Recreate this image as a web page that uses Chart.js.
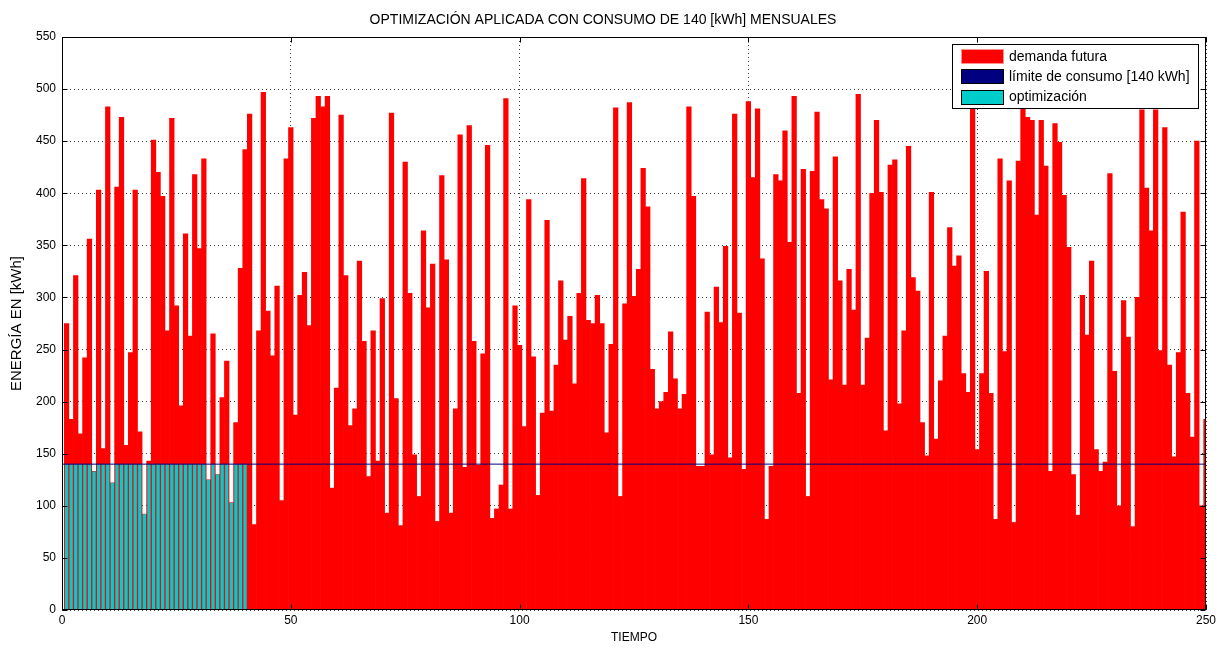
<!DOCTYPE html>
<html>
<head>
<meta charset="utf-8">
<script src="https://cdn.jsdelivr.net/npm/chart.js@4.4.0/dist/chart.umd.min.js"></script>
<style>
html, body { margin: 0; padding: 0; background: #fff; }
canvas { display: block; }
</style>
</head>
<body>
<canvas id="chart" width="1231" height="648"></canvas>
<script>
// monthly future demand, kWh (one bar per time step, 1..250)
const demand = [
  275,183,321,169,242,356,133,403,155,483,
  122,406,473,158,247,403,171,92,143,451,
  420,397,268,472,292,196,361,263,418,347,
  433,125,265,130,204,239,103,180,328,442,
  476,82,268,497,287,244,311,105,433,463,
  187,302,324,273,472,493,483,493,117,213,
  475,321,177,193,335,258,128,268,143,299,
  93,477,203,81,430,304,149,109,364,290,
  332,85,417,336,93,193,456,137,465,258,
  139,246,446,88,97,120,491,97,292,254,
  176,394,243,110,189,374,191,235,316,259,
  282,217,304,414,278,275,302,275,170,255,
  482,109,294,487,301,327,424,387,231,193,
  200,209,267,222,193,207,483,397,138,138,
  286,149,310,276,349,146,476,285,135,488,
  415,481,337,87,138,418,412,460,353,493,
  208,423,109,421,478,394,385,221,435,316,
  216,327,288,495,216,261,400,470,401,172,
  427,432,198,268,445,319,306,180,148,401,
  164,220,263,367,330,340,227,209,490,154,
  227,325,208,87,433,248,412,84,431,490,
  473,470,379,470,426,133,467,449,398,348,
  130,91,302,264,335,154,133,142,419,229,
  100,297,262,80,300,480,405,364,480,249,
  463,235,147,247,382,208,166,450,100,183
];

// optimized consumption for the first 40 steps
const optim = [
  140,140,140,140,140,140,133,140,140,140,
  122,140,140,140,140,140,140,92,140,140,
  140,140,140,140,140,140,140,140,140,140,
  140,125,140,130,140,140,103,140,140,140
];

// consumption limit line
const limitX = [0, 250];
const limitY = [140, 140];

const labels = ['demanda futura', 'límite de consumo [140 kWh]', 'optimización'];
const titleText = 'OPTIMIZACIÓN APLICADA CON CONSUMO DE 140 [kWh] MENSUALES';
const FONT = '"Liberation Sans", Arial, sans-serif';

// frame round the plot and inward tick marks (MATLAB style)
const framePlugin = {
  id: 'frame',
  afterDatasetsDraw(chart) {
    const { ctx, chartArea: a, scales: { x, y } } = chart;
    const L = Math.round(a.left) + 0.5, R = Math.round(a.right) - 0.5;
    const T = Math.round(a.top) + 0.5, B = Math.round(a.bottom) - 0.5;
    ctx.save();
    ctx.strokeStyle = '#000';
    ctx.lineWidth = 1;
    ctx.strokeRect(L, T, R - L, B - T);
    ctx.beginPath();
    y.ticks.forEach(t => {
      const py = Math.round(y.getPixelForValue(t.value)) + 0.5;
      ctx.moveTo(L, py); ctx.lineTo(L + 5, py);
      ctx.moveTo(R, py); ctx.lineTo(R - 5, py);
    });
    x.ticks.forEach(t => {
      const px = Math.round(x.getPixelForValue(t.value)) + 0.5;
      ctx.moveTo(px, B); ctx.lineTo(px, B - 5);
      ctx.moveTo(px, T); ctx.lineTo(px, T + 5);
    });
    ctx.stroke();
    ctx.restore();
  }
};

// boxed legend inside the plot, top right
const boxLegend = {
  id: 'boxLegend',
  afterDraw(chart) {
    const ctx = chart.ctx;
    ctx.save();
    ctx.fillStyle = '#fff';
    ctx.fillRect(952.5, 44.5, 246, 64);
    ctx.strokeStyle = '#000';
    ctx.lineWidth = 1;
    ctx.strokeRect(952.5, 44.5, 246, 64);
    ctx.font = '14px ' + FONT;
    ctx.textBaseline = 'middle';
    chart.data.datasets.forEach((ds, i) => {
      const cy = 56 + i * 20.3;
      const col = ds.type === 'line' ? ds.borderColor : ds.backgroundColor;
      ctx.fillStyle = col;
      ctx.fillRect(961, Math.round(cy - 7), 43, 15);
      ctx.strokeStyle = i === 0 ? '#ff9090' : '#000';
      ctx.strokeRect(961.5, Math.round(cy - 7) + 0.5, 42, 14);
      ctx.fillStyle = '#000';
      ctx.fillText(ds.label, 1009, cy + 1);
    });
    ctx.restore();
  }
};

new Chart(document.getElementById('chart'), {
  type: 'bar',
  data: {
    datasets: [
      {
        label: labels[0],
        data: demand.map((v, i) => ({ x: i + 1, y: v })),
        backgroundColor: '#ff0000',
        borderWidth: 0,
        barPercentage: 1,
        categoryPercentage: 1,
        grouped: false,
        order: 3
      },
      {
        type: 'line',
        label: labels[1],
        data: limitX.map((v, i) => ({ x: v, y: limitY[i] })),
        borderColor: '#000080',
        borderWidth: 1,
        pointRadius: 0,
        fill: false,
        order: 1
      },
      {
        label: labels[2],
        data: optim.map((v, i) => ({ x: i + 1, y: v })),
        backgroundColor: '#00cccc',
        borderWidth: 0,
        barPercentage: 0.72,
        categoryPercentage: 1,
        grouped: false,
        order: 2
      }
    ]
  },
  options: {
    responsive: false,
    animation: false,
    layout: { padding: { top: 0, left: 0, right: 25, bottom: 0 } },
    plugins: {
      legend: { display: false },
      tooltip: { enabled: false },
      title: {
        display: true,
        text: titleText,
        color: '#000',
        font: { family: FONT, size: 14, weight: 'normal' },
        padding: { top: 11.5, bottom: 8.7 }
      }
    },
    scales: {
      x: {
        type: 'linear',
        min: 0,
        max: 250,
        offset: false,
        ticks: { stepSize: 50, color: '#000', padding: 3, maxRotation: 0, font: { family: FONT, size: 12 } },
        grid: { offset: false, drawTicks: false, color: 'rgba(0,0,0,0.75)' },
        border: { display: false, dash: [1, 3] },
        title: { display: true, text: 'TIEMPO', color: '#000', font: { family: FONT, size: 12 }, padding: { top: 0, bottom: 3 } },
        afterFit(s) { s.height = 38; }
      },
      y: {
        min: 0,
        max: 550,
        ticks: { stepSize: 50, color: '#000', padding: 6, font: { family: FONT, size: 12 } },
        grid: { drawTicks: false, color: 'rgba(0,0,0,0.75)' },
        border: { display: false, dash: [1, 3] },
        title: { display: true, text: 'ENERGÍA EN [kWh]', color: '#000', font: { family: FONT, size: 15 }, padding: { top: 8, bottom: 0 } },
        afterFit(s) { s.width = 62; }
      }
    }
  },
  plugins: [framePlugin, boxLegend]
});
</script>
</body>
</html>
